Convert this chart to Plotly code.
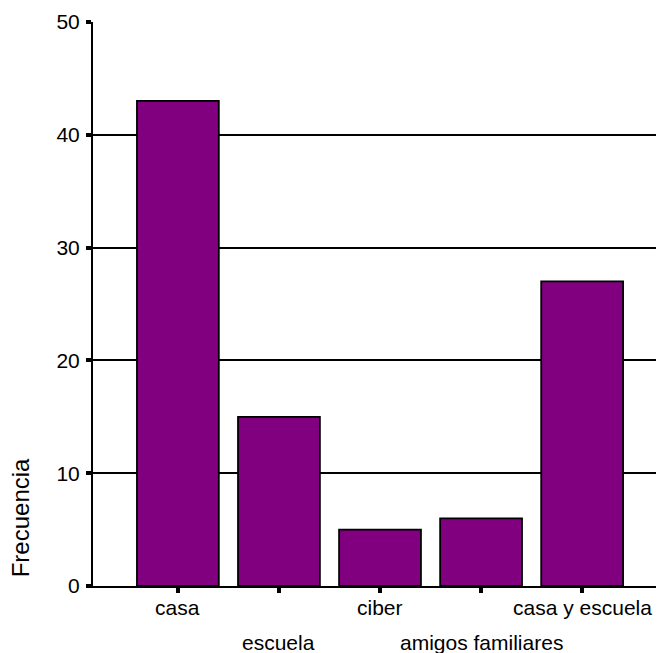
import plotly.graph_objects as go

categories = ["casa", "escuela", "ciber", "amigos familiares", "casa y escuela"]
frecuencia = [43, 15, 5, 6, 27]
label_row = [0, 1, 0, 1, 0]  # staggered tick label rows
y_ticks = [0, 10, 20, 30, 40, 50]
y_title = "Frecuencia"

xpos = list(range(len(categories)))
FONT = "Liberation Sans, Arial, sans-serif"

fig = go.Figure()
fig.add_trace(go.Bar(
    x=xpos, y=frecuencia, width=0.81,
    marker=dict(color="#800080", line=dict(color="black", width=1.8)),
    showlegend=False, hoverinfo="skip",
))

for xi, lab, row in zip(xpos, categories, label_row):
    fig.add_annotation(
        x=xi, y=0, xref="x", yref="y", text=lab, showarrow=False,
        yanchor="top", yshift=-8 - 35 * row,
        font=dict(family=FONT, size=21, color="black"),
    )

fig.add_annotation(
    x=0, y=0.12, xref="paper", yref="paper", xanchor="center", yanchor="middle",
    xshift=-73, text=y_title, textangle=-90, showarrow=False,
    font=dict(family=FONT, size=24, color="black"),
)

fig.update_layout(
    width=656, height=645,
    margin=dict(l=85, r=0, t=14, b=67),
    paper_bgcolor="white", plot_bgcolor="white",
    font=dict(family=FONT, size=21, color="black"),
    xaxis=dict(
        range=[-0.84, 4.81], tickvals=xpos, ticktext=[""] * len(xpos),
        showgrid=False, zeroline=False,
        showline=True, linecolor="black", linewidth=2,
        ticks="outside", ticklen=5, tickwidth=4, tickcolor="black",
        fixedrange=True,
    ),
    yaxis=dict(
        range=[0, 50], tickvals=y_ticks,
        showgrid=True, gridcolor="black", gridwidth=2, zeroline=False,
        showline=True, linecolor="black", linewidth=2,
        ticks="outside", ticklen=5, tickwidth=4, tickcolor="black",
        ticklabelstandoff=2,
        fixedrange=True,
    ),
)

fig.write_html("out.html")
